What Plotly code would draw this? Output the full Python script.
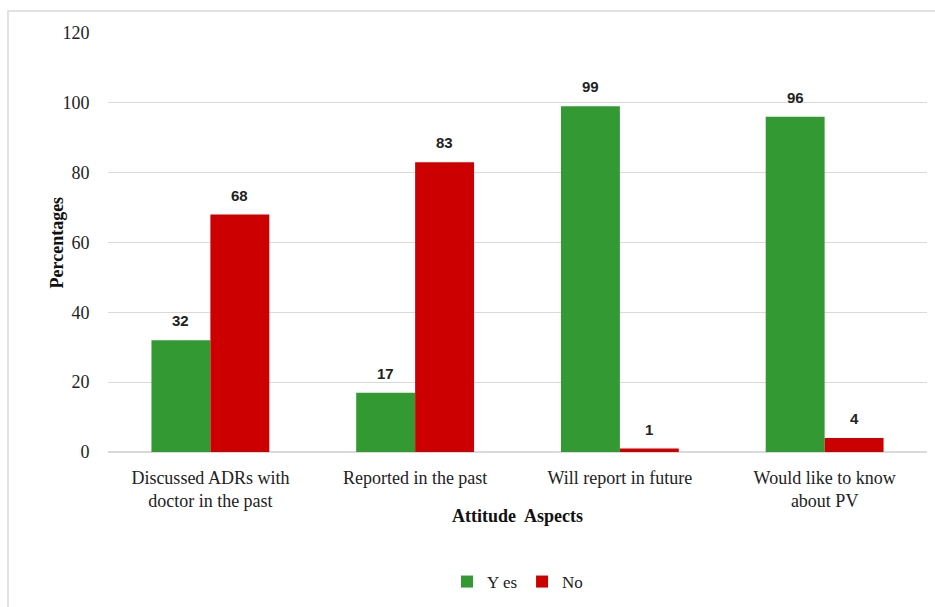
import plotly.graph_objects as go

categories = ["Discussed ADRs with<br>doctor in the past", "Reported in the past",
              "Will report in future", "Would like to know<br>about PV"]
yes_vals = [32, 17, 99, 96]
no_vals = [68, 83, 1, 4]
y_ticks = [0, 20, 40, 60, 80, 100, 120]

GREEN = "#339933"
RED = "#CC0000"
SERIF = "Liberation Serif, Times New Roman, serif"
SANS = "Liberation Sans, Arial, sans-serif"

W, H = 935, 607
L, R, T, B = 108, 8, 33, 154
pw, ph = W - L - R, H - T - B

fig = go.Figure()
fig.add_trace(go.Bar(name="Y es", x=categories, y=yes_vals, marker_color=GREEN,
                     marker_line_width=0))
fig.add_trace(go.Bar(name="No", x=categories, y=no_vals, marker_color=RED,
                     marker_line_width=0))

bargap = 1 - 118 / 205
slot = pw / len(categories)
half = slot * (1 - bargap) / 4

for vals, sh in ((yes_vals, -half), (no_vals, half)):
    for c, v in zip(categories, vals):
        fig.add_annotation(x=c, y=v, xref="x", yref="y", text=f"<b>{v}</b>",
                           showarrow=False, xshift=sh, yshift=9, yanchor="bottom",
                           font=dict(family=SANS, size=15, color="#222"))

fig.add_annotation(x=0.5, y=(453 - 529) / ph, xref="paper", yref="paper",
                   text="<b>Attitude  Aspects</b>", showarrow=False,
                   font=dict(family=SERIF, size=18, color="#111"))
fig.add_annotation(x=(44 - L) / pw, y=0.5, xref="paper", yref="paper",
                   text="<b>Percentages</b>", showarrow=False, textangle=-90,
                   font=dict(family=SERIF, size=18, color="#111"))

fig.add_shape(type="rect", xref="paper", yref="paper",
              x0=(8 - L) / pw, x1=(945 - L) / pw, y0=(453 - 620) / ph, y1=(453 - 11) / ph,
              line=dict(color="#d9d9d9", width=1.5), layer="below")

fig.update_layout(
    width=W, height=H,
    margin=dict(l=L, r=R, t=T, b=B),
    paper_bgcolor="white", plot_bgcolor="white",
    barmode="group", bargap=bargap, bargroupgap=0,
    showlegend=True,
    legend=dict(orientation="h", x=0.5, xanchor="center", y=(453 - 582) / ph,
                yanchor="middle", font=dict(family=SERIF, size=17, color="#222"),
                itemwidth=30, tracegroupgap=0),
    xaxis=dict(showgrid=False, showline=True, linecolor="#d9d9d9", linewidth=1,
               tickfont=dict(family=SERIF, size=18, color="#222"),
               ticks="outside", ticklen=9, tickcolor="white"),
    yaxis=dict(range=[0, 120], tickvals=y_ticks, showgrid=True, gridcolor="#d9d9d9",
               gridwidth=1, zeroline=True, zerolinecolor="#d9d9d9", showline=False,
               tickfont=dict(family=SERIF, size=18, color="#222"),
               ticks="outside", ticklen=14, tickcolor="white"),
)

fig.write_html("out.html")
